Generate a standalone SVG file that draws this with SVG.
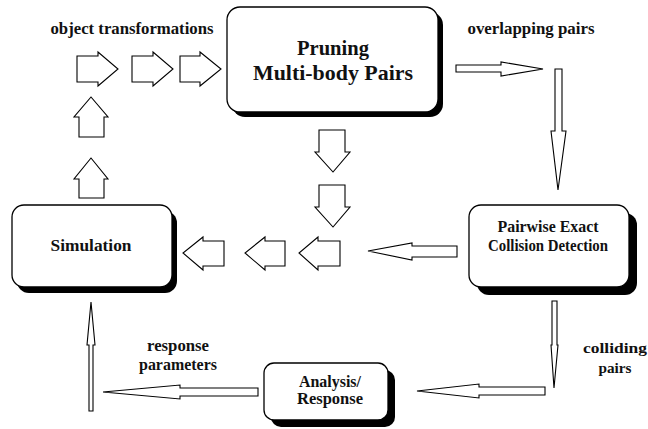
<svg xmlns="http://www.w3.org/2000/svg" width="648" height="429" viewBox="0 0 648 429">
<style>
.box{fill:#fff;stroke:#000;stroke-width:1.3}
.sh{fill:#000}
.ar{fill:#fff;stroke:#000;stroke-width:1.1;stroke-linejoin:miter}
text{font-family:'Liberation Serif','Times New Roman',serif;font-weight:bold;fill:#111;text-anchor:middle}
.lbl{font-size:16.5px}
</style>
<rect width="648" height="429" fill="#fff"/>
<g id="pruning">
<rect class="sh" x="232" y="12" width="211" height="105" rx="13"/>
<rect class="box" x="227" y="7" width="211" height="105" rx="13"/>
<text x="333" y="55" font-size="21" textLength="72" lengthAdjust="spacingAndGlyphs">Pruning</text>
<text x="333" y="80" font-size="21" textLength="160" lengthAdjust="spacingAndGlyphs">Multi-body Pairs</text>
</g>
<g id="simulation">
<rect class="sh" x="17" y="211" width="160" height="82" rx="12"/>
<rect class="box" x="12" y="205" width="160" height="82" rx="12"/>
<text x="91" y="251" font-size="17.5" textLength="81" lengthAdjust="spacingAndGlyphs">Simulation</text>
</g>
<g id="pairwise">
<rect class="sh" x="477" y="213" width="160" height="82" rx="12"/>
<rect class="box" x="469" y="205" width="160" height="82" rx="12"/>
<text x="548" y="232" font-size="16" textLength="101" lengthAdjust="spacingAndGlyphs">Pairwise Exact</text>
<text x="548" y="251" font-size="16" textLength="120" lengthAdjust="spacingAndGlyphs">Collision Detection</text>
</g>
<g id="analysis">
<rect class="sh" x="271" y="370" width="124" height="57" rx="10"/>
<rect class="box" x="264" y="363" width="124" height="57" rx="10"/>
<text x="330" y="387" font-size="16" textLength="62" lengthAdjust="spacingAndGlyphs">Analysis/</text>
<text x="330" y="404" font-size="16" textLength="66" lengthAdjust="spacingAndGlyphs">Response</text>
</g>
<g id="labels">
<text class="lbl" x="132" y="34" textLength="163" lengthAdjust="spacingAndGlyphs">object transformations</text>
<text class="lbl" x="531" y="34" textLength="127" lengthAdjust="spacingAndGlyphs">overlapping pairs</text>
<text class="lbl" x="178" y="351" textLength="62" lengthAdjust="spacingAndGlyphs">response</text>
<text class="lbl" x="178" y="370" textLength="78" lengthAdjust="spacingAndGlyphs">parameters</text>
<text x="615" y="353" font-size="15.5" textLength="64" lengthAdjust="spacingAndGlyphs">colliding</text>
<text x="615" y="373" font-size="15.5" textLength="33" lengthAdjust="spacingAndGlyphs">pairs</text>
</g>
<g id="connectors">
<polygon class="ar" points="77,56 98,56 98,52 118,69 98,86 98,82 77,82"/>
<polygon class="ar" points="132,56 153,56 153,52 173,69 153,86 153,82 132,82"/>
<polygon class="ar" points="180,56 200,56 200,52 221,69 200,86 200,82 180,82"/>
<polygon class="ar" points="79,137 79,117 74,117 91,97 108,117 104,117 104,137"/>
<polygon class="ar" points="79,198 79,179 74,179 91,158 108,179 104,179 104,198"/>
<polygon class="ar" points="319,130 345,130 345,152 350,152 333,172 315,152 319,152"/>
<polygon class="ar" points="319,185 345,185 345,207 350,207 333,227 315,207 319,207"/>
<polygon class="ar" points="340,241 318,241 318,237 299,253 318,270 318,266 340,266"/>
<polygon class="ar" points="285,241 265,241 265,237 245,253 265,270 265,266 285,266"/>
<polygon class="ar" points="224,241 203,241 203,237 183,253 203,270 203,266 224,266"/>
<polygon class="ar" points="456,65 501,65 501,62 543,69 501,76 501,72 456,72"/>
<polygon class="ar" points="555,69 562,69 562,131 566,131 558,190 551,131 555,131"/>
<polygon class="ar" points="457,246 412,246 412,243 368,251 412,260 412,257 457,257"/>
<polygon class="ar" points="552,301 557,301 557,345 558,345 554,388 551,345 552,345"/>
<polygon class="ar" points="545,387 479,387 479,384 417,391 479,398 479,395 545,395"/>
<polygon class="ar" points="258,388 180,388 180,385 103,392 180,399 180,396 258,396"/>
<polygon class="ar" points="89,411 89,345 87,345 91,302 95,345 93,345 93,411"/>
</g>
</svg>
